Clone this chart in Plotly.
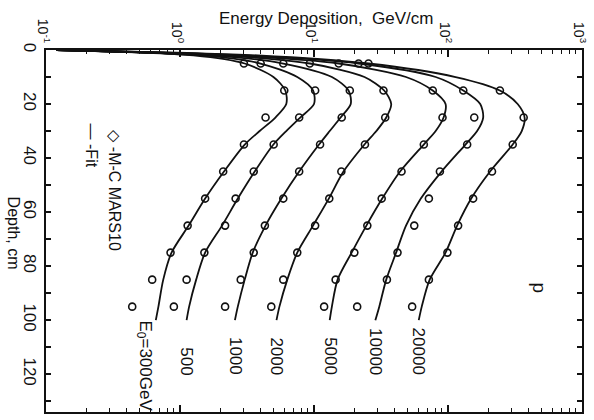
import numpy as np
import plotly.graph_objects as go

# Beam energies (GeV) and curve labels
energies = [300, 500, 1000, 2000, 5000, 10000, 20000]
labels = ["E<sub>0</sub>=300GeV", "500", "1000", "2000", "5000", "10000", "20000"]

# Monte-Carlo (MARS10) energy deposition, GeV/cm, at these depths (cm)
mc_depth = [5, 15, 25, 35, 45, 55, 65, 75, 85, 95]
mc_300 = [3.0, 6.0, 4.35, 3.0, 2.1, 1.54, 1.14, 0.85, 0.62, 0.44]
mc_500 = [4.0, 10.2, 7.75, 5.0, 3.55, 2.6, 2.17, 1.52, 1.12, 0.9]
mc_1000 = [5.9, 18.5, 16.1, 11.1, 7.75, 5.9, 4.3, 3.55, 2.84, 2.17]
mc_2000 = [9.3, 33.0, 34.0, 24.0, 16.0, 13.0, 10.2, 7.5, 5.9, 4.8]
mc_5000 = [15.3, 77.0, 91.0, 66.0, 45.0, 32.0, 25.0, 20.0, 14.5, 11.9]
mc_10000 = [21.5, 130.0, 157.0, 139.0, 87.0, 72.0, 56.0, 42.0, 35.0, 21.0]
mc_20000 = [25.5, 244.0, 367.0, 304.0, 213.0, 154.0, 119.0, 99.0, 72.0, 54.0]

# Fitted curves, GeV/cm, at these depths (cm)
fit_depth = [0, 2, 5, 10, 15, 20, 25, 30, 35, 45, 55, 65, 75, 85, 95, 100]
fit_300 = [0.12, 1.26, 3.04, 4.98, 6.11, 6.21, 5.15, 3.93, 3.04, 2.13, 1.54, 1.16, 0.865, 0.75, 0.69, 0.66]
fit_500 = [0.12, 1.49, 3.99, 7.5, 9.84, 10.0, 7.89, 6.21, 4.98, 3.61, 2.7, 2.06, 1.54, 1.32, 1.17, 1.12]
fit_1000 = [0.12, 1.77, 5.9, 13.6, 18.1, 18.8, 15.8, 13.1, 10.9, 7.75, 5.71, 4.35, 3.49, 3.04, 2.7, 2.57]
fit_2000 = [0.12, 2.09, 9.34, 23.8, 33.4, 37.7, 34.6, 29.2, 23.8, 16.6, 12.9, 9.84, 7.5, 6.32, 5.52, 5.25]
fit_5000 = [0.12, 2.48, 15.3, 48.6, 76.9, 95.9, 92.7, 80.9, 65.9, 43.9, 32.3, 24.6, 19.1, 15.0, 13.6, 13.1]
fit_10000 = [0.12, 2.94, 21.5, 80.9, 130.0, 174.0, 183.0, 165.0, 135.0, 89.5, 62.7, 48.6, 41.0, 34.6, 30.7, 28.7]
fit_20000 = [0.12, 3.8, 25.5, 114.0, 244.0, 331.0, 373.0, 355.0, 304.0, 206.0, 149.0, 117.0, 95.9, 73.0, 63.7, 60.5]

mc_series = [mc_300, mc_500, mc_1000, mc_2000, mc_5000, mc_10000, mc_20000]
fit_series = [fit_300, fit_500, fit_1000, fit_2000, fit_5000, fit_10000, fit_20000]

# Axis ticks
x_tickvals = [0.1, 1, 10, 100, 1000]
x_ticktext = ["10<sup>-1</sup>", "10<sup>0</sup>", "10<sup>1</sup>", "10<sup>2</sup>", "10<sup>3</sup>"]
depth_max = 134

FONT = "Liberation Sans"
INK = "#111111"

fig = go.Figure()

for fit in fit_series:
    fig.add_trace(go.Scatter(
        x=fit, y=fit_depth, mode="lines",
        line=dict(color=INK, width=1.8, shape="spline", smoothing=0.8),
        showlegend=False, hoverinfo="skip"))

for mc in mc_series:
    fig.add_trace(go.Scatter(
        x=mc, y=mc_depth, mode="markers",
        marker=dict(symbol="circle-open", size=7, color=INK, line=dict(width=1.6, color=INK)),
        showlegend=False))

# Energy labels under the end of each fitted curve
for i, (lab, fit) in enumerate(zip(labels, fit_series)):
    if i == 0:
        fig.add_annotation(x=np.log10(fit[-1]), y=fit_depth[-1] - 0.5, text=lab,
                           textangle=90, showarrow=False, xanchor="center", yanchor="top",
                           xshift=-12, font=dict(family=FONT, size=17, color=INK))
    else:
        fig.add_annotation(x=np.log10(fit[-1]), y=121, text=lab,
                           textangle=90, showarrow=False, xanchor="center", yanchor="bottom",
                           font=dict(family=FONT, size=17, color=INK))

# Legend text
fig.add_annotation(xref="paper", yref="paper", x=(115 - 46) / 543, y=1 - (128 - 50) / 362,
                   text="◇ -M-C MARS10", textangle=90, showarrow=False,
                   xanchor="center", yanchor="top", font=dict(family=FONT, size=16, color=INK))
fig.add_annotation(xref="paper", yref="paper", x=(92 - 46) / 543, y=1 - (122 - 50) / 362,
                   text="— -Fit", textangle=90, showarrow=False,
                   xanchor="center", yanchor="top", font=dict(family=FONT, size=16, color=INK))

# Particle type
fig.add_annotation(xref="paper", yref="paper", x=(546 - 46) / 543, y=1 - (288 - 50) / 362,
                   text="p", textangle=90, showarrow=False,
                   xanchor="center", yanchor="middle", font=dict(family=FONT, size=19, color=INK))

# Axis titles
fig.add_annotation(xref="paper", yref="paper", x=(330 - 46) / 543, y=1 + (50 - 18) / 362,
                   text="Energy Deposition,  GeV/cm", showarrow=False,
                   xanchor="center", yanchor="middle", font=dict(family=FONT, size=17, color=INK))
fig.add_annotation(xref="paper", yref="paper", x=(14 - 46) / 543, y=1 - (233 - 50) / 362,
                   text="Depth, cm", textangle=90, showarrow=False,
                   xanchor="center", yanchor="middle", font=dict(family=FONT, size=16, color=INK))

fig.update_xaxes(
    type="log", range=[-1, 3], side="top",
    tickvals=x_tickvals, ticktext=x_ticktext, tickangle=90,
    ticklabeloverflow="allow", ticklabelshift=-3,
    ticks="inside", ticklen=7, tickwidth=1.5, tickcolor=INK,
    minor=dict(ticks="inside", ticklen=4, tickwidth=1.2, tickcolor=INK, dtick="D1", showgrid=False),
    showline=True, linewidth=2, linecolor=INK, mirror="ticks",
    showgrid=False, zeroline=False,
    tickfont=dict(family=FONT, size=14, color=INK))

fig.update_yaxes(
    range=[depth_max, 0], tickvals=[0, 20, 40, 60, 80, 100, 120], tickangle=90,
    ticks="inside", ticklen=5, tickwidth=1.5, tickcolor=INK,
    minor=dict(ticks="inside", ticklen=5, tickwidth=1.5, tickcolor=INK, dtick=10, showgrid=False),
    showline=True, linewidth=2, linecolor=INK, mirror="ticks",
    showgrid=False, zeroline=False,
    tickfont=dict(family=FONT, size=17, color=INK))

fig.update_layout(
    width=594, height=420,
    margin=dict(l=46, r=5, t=50, b=8),
    paper_bgcolor="white", plot_bgcolor="white",
    showlegend=False)

fig.write_html("out.html")
